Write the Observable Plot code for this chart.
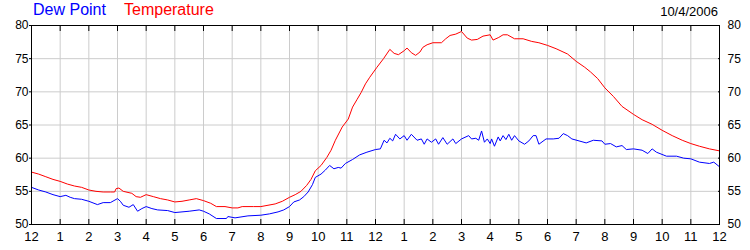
<!DOCTYPE html>
<html>
<head>
<meta charset="utf-8">
<script src="https://cdn.jsdelivr.net/npm/d3@7"></script>
<script src="https://cdn.jsdelivr.net/npm/@observablehq/plot@0.6"></script>
<style>
  html, body { margin: 0; padding: 0; background: white; }
  #wrap { position: relative; width: 750px; height: 250px; font-family: "Liberation Sans", Arial, sans-serif; }
  .t { position: absolute; white-space: nowrap; }
</style>
</head>
<body>
<div id="wrap">
  <div class="t" style="left:33px; top:1px; font-size:16px; color:#0000ff;">Dew Point</div>
  <div class="t" style="left:124px; top:1px; font-size:16px; color:#ff0000;">Temperature</div>
  <div class="t" style="right:32px; top:4px; font-size:13px; color:#000;">10/4/2006</div>
</div>
<script>
// Temperature: hours since midnight and °F
const tempHours = [0,0.25,0.5,0.75,1,1.25,1.5,1.75,2,2.25,2.5,2.75,2.9,2.95,3.05,3.2,3.5,3.65,3.8,4,4.25,4.5,4.75,5,5.25,5.5,5.75,6,6.25,6.45,6.75,7,7.2,7.35,7.75,8,8.25,8.5,8.75,9,9.2,9.4,9.6,9.75,9.9,10.1,10.3,10.45,10.6,10.84,11.05,11.2,11.35,11.5,11.65,11.8,12.05,12.28,12.5,12.65,12.8,13,13.1,13.25,13.4,13.55,13.65,13.8,14,14.3,14.45,14.6,14.8,15,15.2,15.35,15.55,15.75,16,16.1,16.3,16.45,16.6,16.85,17.15,17.45,17.7,18,18.3,18.7,19,19.3,19.5,19.75,20,20.3,20.6,21,21.3,21.65,22,22.35,22.7,23,23.3,23.65,24];
const tempValues = [57.9,57.6,57.2,56.8,56.5,56.1,55.8,55.6,55.2,55.0,54.9,54.9,54.9,55.4,55.5,55.0,54.7,54.2,54.1,54.5,54.2,53.9,53.7,53.4,53.5,53.7,53.9,53.6,53.2,52.7,52.7,52.5,52.5,52.7,52.7,52.7,52.9,53.1,53.5,54.1,54.5,55.0,55.9,56.8,58.1,58.9,60.1,61.2,62.7,64.7,65.9,67.7,68.8,69.9,71.2,72.2,73.7,75.0,76.4,75.8,75.6,76.2,76.6,75.9,75.5,76.0,76.7,77.1,77.4,77.4,78.0,78.5,78.7,79.1,78.1,77.8,77.9,78.4,78.6,77.8,78.2,78.6,78.6,78.0,78.0,77.6,77.4,77.0,76.5,75.7,74.6,73.7,73.0,72.0,70.6,69.3,67.8,66.6,65.8,65.1,64.2,63.4,62.7,62.2,61.8,61.4,61.1];

// Dew point: hours since midnight and °F
const dewHours = [0,0.25,0.5,0.75,1,1.2,1.35,1.5,1.75,2,2.3,2.5,2.75,3,3.1,3.2,3.4,3.55,3.7,3.85,4,4.2,4.4,4.75,5,5.25,5.5,5.85,6,6.2,6.45,6.8,6.85,7.1,7.55,8,8.3,8.6,8.8,9,9.15,9.35,9.5,9.65,9.8,9.9,10.1,10.25,10.4,10.55,10.7,10.8,10.95,11.2,11.45,11.7,12,12.17,12.3,12.4,12.5,12.6,12.7,12.85,13,13.1,13.25,13.45,13.6,13.7,13.8,13.95,14.1,14.2,14.35,14.5,14.7,14.8,15,15.25,15.35,15.5,15.6,15.7,15.8,15.9,16,16.05,16.15,16.28,16.35,16.45,16.55,16.65,16.75,16.85,17,17.2,17.35,17.5,17.6,17.7,17.95,18.2,18.4,18.55,18.7,18.85,19.1,19.35,19.6,19.9,20,20.2,20.4,20.6,20.75,21,21.3,21.5,21.65,21.8,22.15,22.5,22.75,23,23.3,23.65,23.8,24];
const dewValues = [55.6,55.2,54.9,54.5,54.2,54.4,54.1,53.9,53.8,53.5,53.0,53.3,53.3,53.9,53.5,52.9,52.6,53.0,52.0,52.4,52.7,52.4,52.2,52.1,51.8,51.9,52.0,52.2,52.0,51.6,50.9,50.9,51.2,51.0,51.3,51.4,51.6,51.9,52.2,52.7,53.4,53.7,54.2,54.9,56.0,57.1,57.6,58.2,58.9,58.4,58.6,58.5,59.2,59.8,60.5,60.9,61.3,61.4,62.7,62.3,63.0,62.6,63.6,62.9,63.4,62.7,63.6,62.7,62.9,62.1,62.9,62.4,62.9,62.1,63.1,62.1,62.9,62.2,62.9,63.4,62.9,63.0,62.7,64.1,62.4,62.9,62.2,62.9,61.8,63.2,62.6,63.4,62.8,63.6,62.7,63.4,62.6,62.1,62.6,63.4,63.4,62.1,62.9,62.9,63.0,63.7,63.4,62.9,62.6,62.3,62.7,62.6,62.1,62.2,61.7,61.9,61.3,61.4,61.2,60.7,61.4,60.9,60.3,60.3,60.0,59.9,59.4,59.2,59.4,58.7];

// Tick labels
const hourTicks = d3.range(0, 25);
const hourLabels = ["12","1","2","3","4","5","6","7","8","9","10","11","12","1","2","3","4","5","6","7","8","9","10","11","12"];
const yTicks = [50, 55, 60, 65, 70, 75, 80];
const yGrid = [55, 60, 65, 70, 75];

const temp = tempHours.map((h, i) => ({h, v: tempValues[i]}));
const dew = dewHours.map((h, i) => ({h, v: dewValues[i]}));

const blank = () => "";

const chart = Plot.plot({
  width: 750,
  height: 250,
  marginLeft: 31,
  marginRight: 31,
  marginTop: 25,
  marginBottom: 26,
  style: {fontFamily: "'Liberation Sans', Arial, sans-serif", fontSize: "12px", background: "transparent", color: "black", overflow: "visible"},
  x: {domain: [0, 24]},
  y: {domain: [50, 80]},
  marks: [
    Plot.gridX(hourTicks, {stroke: "#cccccc", strokeOpacity: 1, strokeWidth: 1}),
    Plot.gridY(yGrid, {stroke: "#cccccc", strokeOpacity: 1, strokeWidth: 1}),
    Plot.line(dew, {x: "h", y: "v", stroke: "#0000ff", strokeWidth: 1}),
    Plot.line(temp, {x: "h", y: "v", stroke: "#ff0000", strokeWidth: 1}),
    Plot.frame({stroke: "black", strokeWidth: 1}),
    // inward hour ticks on bottom and top edges
    Plot.axisX(hourTicks, {anchor: "bottom", tickSize: 5, dy: -5, tickFormat: blank, label: null, stroke: "black", strokeOpacity: 1}),
    Plot.axisX(hourTicks, {anchor: "top", tickSize: 5, dy: 5, tickFormat: blank, label: null, stroke: "black", strokeOpacity: 1}),
    // hour labels
    Plot.axisX(hourTicks, {anchor: "bottom", tickSize: 0, tickPadding: 7, tickFormat: (d) => hourLabels[d], label: null, fill: "black", fontSize: 13}),
    // left axis
    Plot.axisY(yTicks, {anchor: "left", tickSize: 2, tickPadding: 1, label: null, stroke: "black", strokeOpacity: 1, fill: "black", fontSize: 12}),
    // right axis
    Plot.axisY(yTicks, {anchor: "right", tickSize: 2, dx: -2, tickFormat: blank, label: null, stroke: "black", strokeOpacity: 1}),
    Plot.axisY(yTicks, {anchor: "right", tickSize: 0, tickPadding: 8, label: null, fill: "black", fontSize: 12})
  ]
});
chart.style.position = "absolute";
chart.style.left = "0px";
chart.style.top = "0px";
document.getElementById("wrap").appendChild(chart);
</script>
</body>
</html>
